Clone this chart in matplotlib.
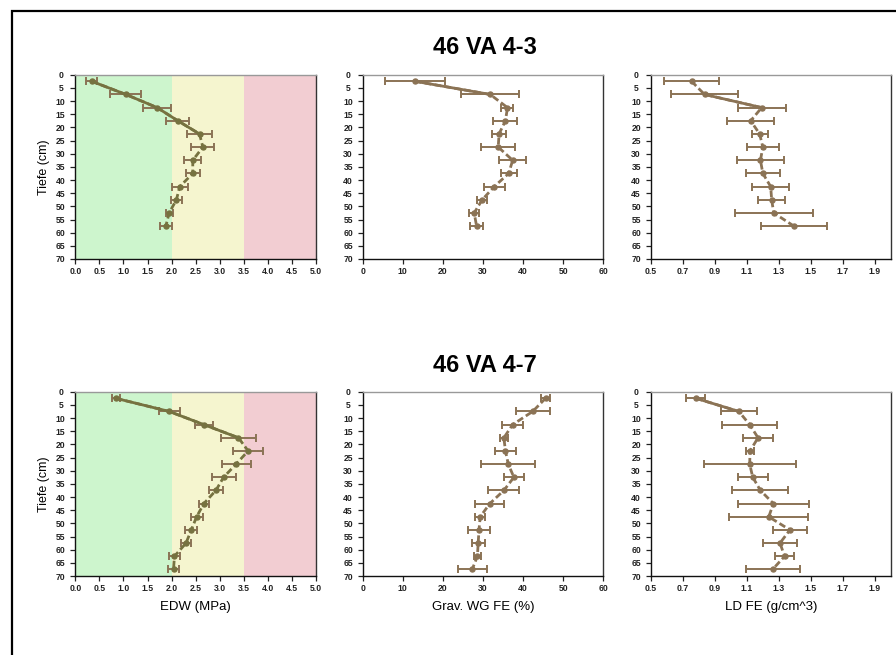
import matplotlib
matplotlib.use("Agg")
import matplotlib.pyplot as plt
from matplotlib.patches import Rectangle

plt.rcParams['font.family'] = ['Liberation Sans', 'DejaVu Sans']

# Tiefenstufen (Mitte der 5-cm-Schichten)
tiefe_43 = [2.5, 7.5, 12.5, 17.5, 22.5, 27.5, 32.5, 37.5, 42.5, 47.5, 52.5, 57.5]
tiefe_47 = [2.5, 7.5, 12.5, 17.5, 22.5, 27.5, 32.5, 37.5, 42.5, 47.5, 52.5, 57.5, 62.5, 67.5]

# 46 VA 4-3
edw_43 = [0.34, 1.05, 1.70, 2.13, 2.58, 2.65, 2.44, 2.44, 2.17, 2.10, 1.95, 1.88]
edw_43_sd = [0.11, 0.32, 0.29, 0.24, 0.25, 0.24, 0.18, 0.15, 0.17, 0.11, 0.07, 0.13]
wg_43 = [13.0, 31.8, 36.1, 35.6, 34.0, 33.8, 37.4, 36.4, 32.8, 29.8, 27.8, 28.4]
wg_43_sd = [7.5, 7.3, 1.5, 3.0, 1.7, 4.2, 3.4, 2.0, 2.6, 1.2, 1.25, 1.6]
ld_43 = [0.755, 0.836, 1.193, 1.124, 1.18, 1.20, 1.185, 1.20, 1.249, 1.255, 1.268, 1.394]
ld_43_sd = [0.17, 0.21, 0.15, 0.145, 0.05, 0.10, 0.148, 0.105, 0.115, 0.085, 0.243, 0.207]

# 46 VA 4-7
edw_47 = [0.84, 1.95, 2.67, 3.39, 3.59, 3.34, 3.08, 2.92, 2.67, 2.52, 2.41, 2.30, 2.06, 2.04]
edw_47_sd = [0.08, 0.22, 0.19, 0.37, 0.31, 0.30, 0.25, 0.15, 0.11, 0.125, 0.125, 0.095, 0.11, 0.12]
wg_47 = [45.6, 42.4, 37.4, 35.2, 35.6, 36.3, 37.7, 35.2, 31.7, 29.3, 29.0, 28.8, 28.6, 27.3]
wg_47_sd = [1.1, 4.2, 2.6, 1.05, 2.7, 6.7, 2.4, 3.9, 3.65, 1.2, 2.8, 1.65, 0.9, 3.65]
ld_47 = [0.782, 1.05, 1.118, 1.17, 1.12, 1.118, 1.137, 1.185, 1.266, 1.237, 1.369, 1.307, 1.336, 1.261]
ld_47_sd = [0.06, 0.114, 0.17, 0.092, 0.026, 0.287, 0.094, 0.175, 0.224, 0.247, 0.105, 0.107, 0.057, 0.168]

titel = ["46 VA 4-3", "46 VA 4-7"]
x_labels = ["EDW (MPa)", "Grav. WG FE (%)", "LD FE (g/cm^3)"]

W, H = 896, 655
fig = plt.figure(figsize=(W / 100, H / 100), dpi=100)

# Rahmen um die Seite
fig.patches.append(Rectangle((12 / W, -0.1), 1.2, 1 - 11 / H + 0.1, transform=fig.transFigure,
                             fill=False, edgecolor='black', linewidth=1.6))

BAR = '#8b7355'
cols = [(75.3, 316.0), (362.7, 603.3), (650.7, 891.0)]
rows = [(74.7, 259.0), (391.7, 576.0)]


def px_axes(x0, x1, y0, y1):
    return fig.add_axes([x0 / W, 1 - y1 / H, (x1 - x0) / W, (y1 - y0) / H])


def profil(ax, werte, sd, tiefe, farbe, solid):
    # Fehlerbalken
    ax.errorbar(werte, tiefe, xerr=sd, fmt='none', ecolor=BAR, elinewidth=1.4,
                capsize=3.2, capthick=1.4, zorder=3)
    # Verbindungslinien: einzelne Abschnitte durchgezogen, sonst gestrichelt
    ax.plot(werte, tiefe, color=farbe, lw=2.0, linestyle=(0, (2.4, 1.2)), zorder=4)
    for i in solid:
        ax.plot(werte[i:i + 2], tiefe[i:i + 2], color=farbe, lw=2.0,
                solid_capstyle='round', zorder=4)
    ax.plot(werte, tiefe, 'o', color=farbe, ms=3.6, zorder=5)


def achsen(ax, xlim, xticks, xlabels):
    ax.set_ylim(70, 0)
    ax.set_xlim(*xlim)
    ax.set_yticks(range(0, 71, 5))
    ax.set_xticks(xticks)
    ax.set_xticklabels(xlabels)
    ax.tick_params(axis='both', labelsize=6.2, colors='#222222', length=3.5, width=0.9, pad=2)
    ax.tick_params(axis='y', pad=7)
    for lab in ax.get_yticklabels():
        lab.set_horizontalalignment('center')
    for lab in ax.get_xticklabels() + ax.get_yticklabels():
        lab.set_fontweight('bold')
    ax.spines['left'].set_color('#111111')
    ax.spines['bottom'].set_color('#111111')
    ax.spines['top'].set_color('#999999')
    ax.spines['right'].set_color('#333333')
    for s in ax.spines.values():
        s.set_linewidth(1.0)


daten = [
    [(edw_43, edw_43_sd, [0, 1, 2, 3]), (wg_43, wg_43_sd, [0]), (ld_43, ld_43_sd, [1])],
    [(edw_47, edw_47_sd, [0, 1, 2]), (wg_47, wg_47_sd, []), (ld_47, ld_47_sd, [0])],
]
tiefen = [tiefe_43, tiefe_47]

edw_ticks = [i * 0.5 for i in range(11)]
wg_ticks = list(range(0, 61, 10))
ld_ticks = [0.5, 0.7, 0.9, 1.1, 1.3, 1.5, 1.7, 1.9]

for r, (y0, y1) in enumerate(rows):
    for c, (x0, x1) in enumerate(cols):
        ax = px_axes(x0, x1, y0, y1)
        werte, sd, solid = daten[r][c]
        tiefe = tiefen[r]
        if c == 0:
            ax.axvspan(0, 2.0, color='#cdf5cd', zorder=0, lw=0)
            ax.axvspan(2.0, 3.5, color='#f5f5cf', zorder=0, lw=0)
            ax.axvspan(3.5, 5.0, color='#f2cdd2', zorder=0, lw=0)
            farbe = '#767240'
            achsen(ax, (0, 5), edw_ticks, [f"{t:.1f}" for t in edw_ticks])
            ax.set_ylabel("Tiefe (cm)", fontsize=9, labelpad=4)
        elif c == 1:
            farbe = '#8b7355'
            achsen(ax, (0, 60), wg_ticks, [str(t) for t in wg_ticks])
        else:
            farbe = '#8b7355'
            achsen(ax, (0.5, 2.0), ld_ticks, [f"{t:.1f}" for t in ld_ticks])
        profil(ax, werte, sd, tiefe, farbe, solid)
        if r == 1:
            ax.set_xlabel(x_labels[c], fontsize=9.5, labelpad=6)

    fig.text(485 / W, 1 - (47 if r == 0 else 365) / H, titel[r], ha='center', va='center',
             fontsize=17, fontweight='bold',
             family=['Liberation Sans Narrow', 'DejaVu Sans Condensed', 'Liberation Sans', 'DejaVu Sans'])

fig.savefig("out.png", dpi=100)
